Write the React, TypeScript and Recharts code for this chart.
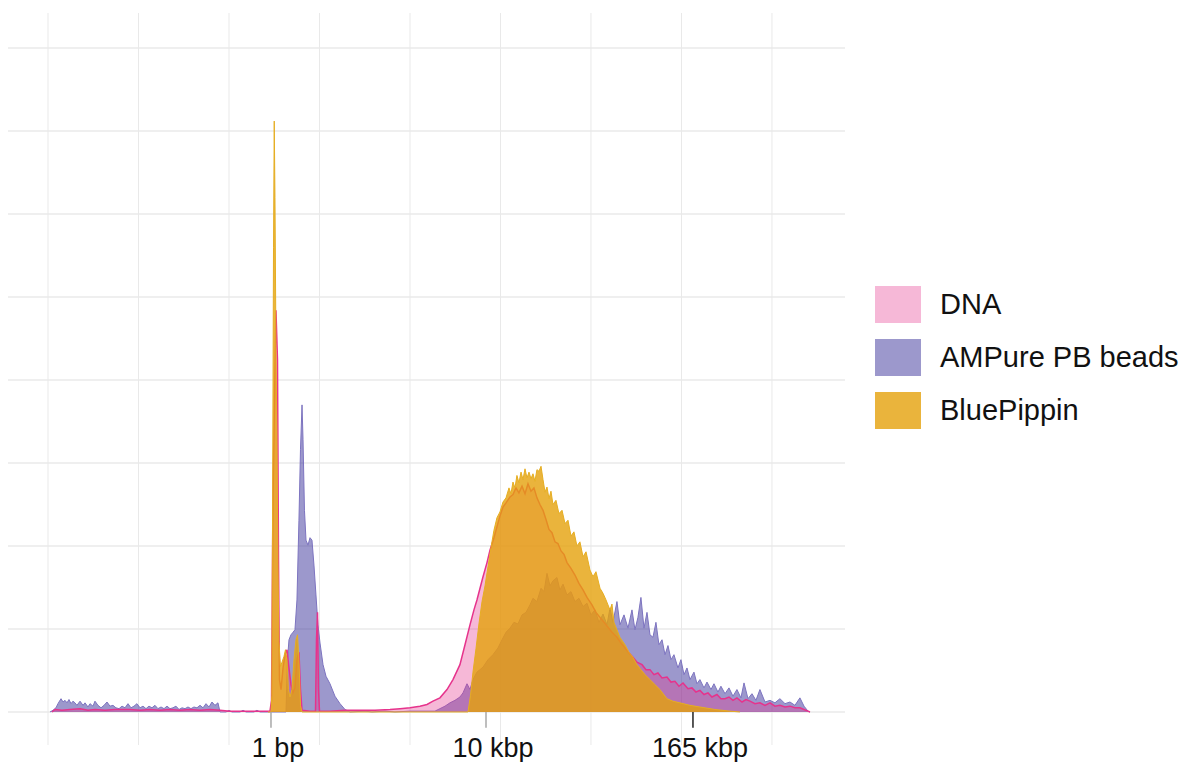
import React from 'react';
import { AreaChart, Area, XAxis, YAxis, CartesianGrid, Legend, ReferenceLine } from 'recharts';

// Electropherogram traces as [migration, signal] pairs
const dnaTrace: [number, number][] = [
  [0.44, 0], [0.77, 3], [1.55, 2], [2.43, 3], [3.54, 4], [4.42, 2], [5.19, 3], [6.3, 2], [7.4, 3],
  [9.06, 3], [10.17, 2], [11.27, 3], [12.38, 2], [13.48, 3], [14.59, 2], [15.69, 3], [16.8, 2],
  [17.9, 3], [19.01, 2], [20.11, 1], [21.77, 1], [23.43, 1], [24.53, 1],
  [24.7, 14], [24.86, 255], [25.03, 376], [25.19, 484], [25.36, 424], [25.47, 183], [25.58, 39],
  [25.75, 27], [25.97, 53], [26.19, 69], [26.41, 75], [26.63, 53], [26.85, 33], [27.07, 23],
  [27.29, 29], [27.51, 63], [27.73, 72], [27.9, 27], [28.07, 2], [28.95, 1], [29.56, 1],
  [29.67, 87], [29.78, 120], [29.89, 27], [30.0, 1], [31.16, 1], [32.82, 2], [34.48, 2],
  [36.13, 2], [37.79, 3], [38.9, 4], [40.0, 5], [41.1, 7], [41.88, 9], [42.54, 13], [43.31, 17],
  [44.09, 27], [44.75, 39], [45.52, 57], [46.08, 81], [46.63, 105], [47.07, 123], [47.4, 135],
  [48.07, 163], [48.51, 180], [48.84, 195], [49.28, 210], [49.61, 223], [49.94, 236], [50.28, 247],
  [50.61, 252], [51.05, 259], [51.38, 262], [51.71, 270], [52.04, 264], [52.38, 272], [52.71, 263],
  [53.04, 275], [53.37, 266], [53.7, 270], [54.03, 258], [54.36, 250], [54.7, 243], [55.03, 232],
  [55.36, 220], [55.69, 216], [56.02, 205], [56.35, 203], [56.69, 194], [57.02, 190], [57.35, 180],
  [57.79, 173], [58.23, 165], [58.67, 155], [59.12, 147], [59.56, 138], [60.11, 129], [60.55, 120],
  [61.0, 114], [61.44, 108], [61.88, 102], [62.32, 96], [62.87, 90], [63.31, 83], [63.76, 77],
  [64.2, 71], [64.64, 66], [65.08, 60], [65.64, 57], [66.08, 51], [66.52, 51], [66.96, 45],
  [67.4, 47], [67.85, 41], [68.4, 42], [68.84, 36], [69.28, 37], [69.72, 31], [70.17, 35],
  [70.72, 28], [71.16, 29], [71.6, 24], [72.04, 26], [72.49, 21], [72.93, 23], [73.37, 18],
  [73.92, 21], [74.36, 16], [74.81, 16], [75.25, 18], [75.69, 14], [76.13, 17], [76.69, 12],
  [77.13, 15], [77.57, 13], [78.12, 10], [78.67, 11], [79.23, 8], [79.78, 11], [80.33, 7],
  [80.88, 8], [81.44, 6], [81.99, 7], [82.54, 5], [83.09, 5], [83.54, 3], [83.98, 1], [84.2, 0],
];

const ampureTrace: [number, number][] = [
  [0.22, 0], [0.55, 2], [0.88, 5], [1.1, 10], [1.44, 16], [1.66, 12], [1.88, 14], [2.1, 11],
  [2.32, 15], [2.54, 10], [2.76, 13], [2.98, 11], [3.2, 8], [3.54, 13], [3.87, 8], [4.09, 11],
  [4.42, 6], [4.64, 10], [4.97, 7], [5.19, 13], [5.52, 8], [5.86, 5], [6.19, 8], [6.52, 12],
  [6.85, 7], [7.18, 8], [7.51, 5], [7.85, 4], [8.18, 7], [8.51, 5], [8.84, 10], [9.17, 5],
  [9.5, 7], [9.83, 10], [10.17, 5], [10.5, 7], [10.83, 4], [11.16, 7], [11.49, 5], [11.82, 8],
  [12.15, 4], [12.49, 6], [12.82, 4], [13.15, 7], [13.48, 4], [13.81, 5], [14.14, 7], [14.48, 3],
  [14.81, 5], [15.14, 4], [15.47, 6], [15.8, 4], [16.13, 6], [16.46, 5], [16.8, 8], [17.13, 5],
  [17.46, 10], [17.79, 6], [18.12, 12], [18.45, 8], [18.78, 11], [19.01, 0], [19.67, 0], [20.0, 2],
  [20.33, 0], [21.22, 0], [21.55, 2], [21.88, 0], [22.76, 0], [23.09, 2], [23.43, 0], [26.3, 0],
  [26.46, 63], [26.63, 87], [26.85, 93], [27.07, 96], [27.29, 99], [27.51, 135], [27.73, 231],
  [27.9, 316], [28.07, 370], [28.18, 328], [28.34, 243], [28.51, 207], [28.73, 201], [28.95, 210],
  [29.17, 207], [29.39, 177], [29.61, 141], [29.83, 105], [30.06, 83], [30.39, 57], [30.72, 43],
  [31.16, 34], [31.71, 19], [32.27, 10], [32.82, 3], [33.37, 0], [35.03, 1], [35.8, 0], [37.24, 1],
  [38.34, 0], [40.0, 1], [41.66, 1], [42.76, 1], [43.31, 4], [43.87, 7], [44.42, 11], [44.97, 14],
  [45.52, 18], [45.86, 23], [46.3, 34], [46.63, 27], [46.96, 39], [47.4, 48], [48.07, 54],
  [48.62, 63], [49.17, 69], [49.72, 77], [50.17, 87], [50.61, 96], [51.05, 101], [51.49, 108],
  [51.93, 106], [52.38, 117], [52.82, 120], [53.26, 129], [53.59, 137], [54.03, 133], [54.48, 149],
  [54.81, 145], [55.14, 167], [55.47, 152], [55.8, 158], [56.24, 162], [56.57, 147], [56.91, 154],
  [57.35, 141], [57.79, 145], [58.23, 133], [58.67, 137], [59.12, 127], [59.56, 131], [60.0, 117],
  [60.44, 123], [60.88, 108], [61.33, 118], [61.77, 105], [62.1, 125], [62.43, 108], [62.87, 133],
  [63.2, 105], [63.65, 117], [64.09, 101], [64.53, 123], [64.86, 99], [65.19, 114], [65.52, 138],
  [65.86, 101], [66.19, 120], [66.52, 93], [66.85, 90], [67.18, 108], [67.51, 81], [67.85, 87],
  [68.18, 69], [68.51, 80], [68.84, 63], [69.17, 69], [69.61, 53], [69.94, 63], [70.28, 45],
  [70.61, 53], [70.94, 39], [71.38, 48], [71.71, 34], [72.04, 39], [72.49, 29], [72.82, 36],
  [73.26, 27], [73.59, 34], [74.03, 24], [74.36, 31], [74.81, 22], [75.25, 29], [75.69, 19],
  [76.13, 27], [76.57, 17], [76.91, 35], [77.35, 16], [77.79, 22], [78.23, 14], [78.67, 27],
  [79.23, 12], [79.78, 14], [80.33, 11], [80.88, 16], [81.44, 10], [81.99, 12], [82.54, 8],
  [83.09, 17], [83.54, 7], [83.98, 1], [84.2, 0],
];

const pippinTrace: [number, number][] = [
  [24.31, 0], [24.64, 0], [24.73, 20], [24.82, 260], [24.92, 560], [25.0, 712], [25.08, 620],
  [25.19, 440], [25.3, 330], [25.41, 180], [25.52, 85], [25.69, 55], [25.86, 60], [26.08, 67],
  [26.24, 75], [26.41, 63], [26.57, 27], [26.74, 18], [26.96, 27], [27.18, 63], [27.4, 87],
  [27.57, 93], [27.73, 63], [27.9, 8], [28.07, 0],
  [46.41, 0], [46.69, 20], [46.96, 48], [47.29, 76], [47.62, 106], [47.96, 133], [48.29, 152],
  [48.62, 175], [48.95, 198], [49.28, 219], [49.61, 234], [49.94, 241], [50.28, 253], [50.61, 258],
  [50.94, 270], [51.16, 263], [51.38, 277], [51.6, 270], [51.82, 285], [52.04, 276], [52.27, 289],
  [52.49, 280], [52.71, 293], [52.93, 282], [53.15, 289], [53.37, 281], [53.59, 287], [53.81, 278],
  [54.03, 292], [54.25, 290], [54.48, 296], [54.7, 280], [54.92, 265], [55.14, 271], [55.36, 257],
  [55.58, 266], [55.8, 250], [56.13, 255], [56.46, 239], [56.8, 243], [57.13, 227], [57.46, 231],
  [57.79, 212], [58.12, 217], [58.45, 200], [58.78, 205], [59.12, 187], [59.45, 193], [59.89, 171],
  [60.22, 163], [60.55, 169], [61.0, 149], [61.33, 143], [61.66, 135], [62.1, 123], [62.32, 130],
  [62.54, 108], [62.87, 99], [63.2, 90], [63.76, 81], [64.2, 72], [64.64, 66], [65.08, 57],
  [65.52, 51], [65.97, 45], [66.52, 39], [67.07, 33], [67.62, 27], [68.4, 16], [69.06, 13],
  [69.83, 11], [70.94, 8], [72.04, 6], [73.7, 3], [75.36, 1], [76.46, 0],
];

const tickPositions = [24.64, 48.4, 71.27];
const tickLabels = ['1 bp', '10 kbp', '165 kbp'];
const tickColors = ['#a8a8a8', '#a8a8a8', '#222'];

const gridX = [0, 10, 20, 30, 40, 50, 60, 70, 80];
const gridY = [0, 100, 200, 300, 400, 500, 600, 700, 800];

// legend order
const series = [
  { key: 'dna', name: 'DNA', fill: 'rgb(230,51,140)', fillOpacity: 0.35, stroke: '#e6338c', width: 1.5 },
  { key: 'ampure', name: 'AMPure PB beads', fill: 'rgb(57,49,153)', fillOpacity: 0.5, stroke: 'rgb(125,116,192)', width: 1 },
  { key: 'pippin', name: 'BluePippin', fill: 'rgb(229,161,11)', fillOpacity: 0.8, stroke: '#e6ae22', width: 1 },
];
// paint order: beads under the DNA trace, size-selected sample on top
const drawOrder = ['ampure', 'dna', 'pippin'];

const FONT = '"Liberation Sans", Arial, sans-serif';

type Row = { x: number; [k: string]: number };

const buildRows = (): Row[] => {
  const rows = new Map<number, Row>();
  const add = (trace: [number, number][], key: string) => {
    trace.forEach(([x, y]) => {
      const row = rows.get(x) ?? { x };
      row[key] = y;
      rows.set(x, row);
    });
  };
  add(dnaTrace, 'dna');
  add(ampureTrace, 'ampure');
  add(pippinTrace, 'pippin');
  return [...rows.values()].sort((a, b) => a.x - b.x);
};

const rows = buildRows();

const AxisTick = ({ x, y, payload }: any) => {
  const i = tickPositions.indexOf(payload.value);
  return (
    <text x={x + 7} y={y} dy={12} textAnchor="middle" fontSize={27} fill="#111" fontFamily={FONT}>
      {tickLabels[i]}
    </text>
  );
};

const renderLegend = () => (
  <div style={{ fontFamily: FONT, fontSize: 29, color: '#111' }}>
    {series.map(s => (
      <div key={s.key} style={{ display: 'flex', alignItems: 'center', height: 37, marginBottom: 16 }}>
        <span style={{ width: 46, height: 37, background: s.fill, opacity: s.fillOpacity, display: 'inline-block' }} />
        <span style={{ marginLeft: 19, whiteSpace: 'nowrap' }}>{s.name}</span>
      </div>
    ))}
  </div>
);

const App: React.FC = () => (
  <div style={{ position: 'absolute', left: 0, top: 0, width: 1185, height: 762, background: '#fff' }}>
    <AreaChart width={1185} height={762} data={rows} margin={{ top: 13, right: 30, bottom: 0, left: 8 }}>
      <CartesianGrid vertical={false} horizontalValues={gridY} stroke="#efefef" strokeWidth={2} />
      <CartesianGrid horizontal={false} verticalValues={gridX} stroke="#e9e9e9" strokeWidth={1} />
      <XAxis
        dataKey="x"
        type="number"
        domain={[-4.42, 88.07]}
        allowDataOverflow
        ticks={tickPositions}
        interval={0}
        axisLine={false}
        tickLine={false}
        tickSize={0}
        tickMargin={0}
        height={17}
        tick={<AxisTick />}
      />
      <YAxis hide type="number" domain={[-39.8, 842.2]} allowDataOverflow />
      {tickPositions.map((t, i) => (
        <ReferenceLine key={t} segment={[{ x: t, y: 0 }, { x: t, y: -19 }]} stroke={tickColors[i]} strokeWidth={1.5} />
      ))}
      {drawOrder.map(k => {
        const s = series.find(d => d.key === k)!;
        return (
          <Area
            key={s.key}
            type="linear"
            dataKey={s.key}
            name={s.name}
            baseValue={0}
            connectNulls
            fill={s.fill}
            fillOpacity={s.fillOpacity}
            stroke={s.stroke}
            strokeWidth={s.width}
            dot={false}
            activeDot={false}
            isAnimationActive={false}
          />
        );
      })}
      <Legend
        layout="vertical"
        align="right"
        verticalAlign="middle"
        content={renderLegend}
        wrapperStyle={{ left: 875, top: 286, width: 310 }}
      />
    </AreaChart>
  </div>
);

export default App;
